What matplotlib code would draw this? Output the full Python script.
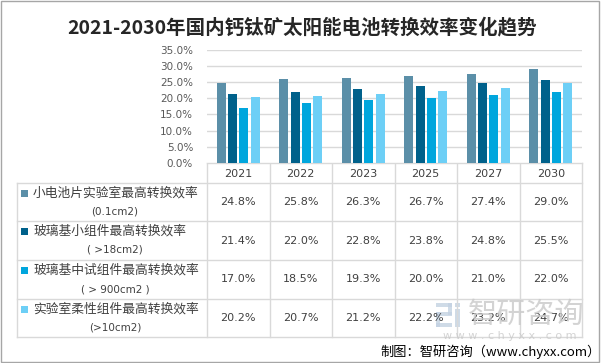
import numpy as np
import matplotlib
matplotlib.use('Agg')
import matplotlib.pyplot as plt
from matplotlib.patches import Rectangle

plt.rcParams['font.family'] = ['Noto Sans CJK SC', 'DejaVu Sans']

years = ['2021', '2022', '2023', '2025', '2027', '2030']
series_names = ['小电池片实验室最高转换效率', '玻璃基小组件最高转换效率',
                '玻璃基中试组件最高转换效率', '实验室柔性组件最高转换效率']
series_notes = ['(0.1cm2)', '( >18cm2)', '( > 900cm2 )', '(>10cm2)']
cell_small = [24.8, 25.8, 26.3, 26.7, 27.4, 29.0]
glass_small = [21.4, 22.0, 22.8, 23.8, 24.8, 25.5]
glass_pilot = [17.0, 18.5, 19.3, 20.0, 21.0, 22.0]
flexible = [20.2, 20.7, 21.2, 22.2, 23.2, 24.7]
series = [cell_small, glass_small, glass_pilot, flexible]
colors = ['#5B8FA8', '#00618B', '#00A6DD', '#6DCFF6']

W, H = 605, 363
fig = plt.figure(figsize=(W / 100, H / 100), dpi=100)

# overlay in pixel coords for table / decorations
ov = fig.add_axes([0, 0, 1, 1])
ov.set_xlim(0, W)
ov.set_ylim(H, 0)
ov.axis('off')

# bar chart
x0, x1 = 207, 582
y_zero, y_top = 163, 49.5
ax = fig.add_axes([x0 / W, (H - y_zero) / H, (x1 - x0) / W, (y_zero - y_top) / H])
x = np.arange(len(years))
stride, bw = 0.18, 0.145
for i, vals in enumerate(series):
    ax.bar(x + (i - 1.5) * stride, vals, width=bw, color=colors[i], zorder=3)
ax.set_xlim(-0.5, len(years) - 0.5)
ax.set_ylim(0, 35)
ax.set_yticks(np.arange(0, 36, 5))
ax.set_yticklabels([f'{v:.1f}%' for v in np.arange(0, 36, 5)], family='DejaVu Sans',
                   fontsize=7.5, color='#595959')
ax.set_xticks([])
ax.grid(axis='y', color='#D9D9D9', lw=1, zorder=0)
ax.tick_params(axis='y', length=0, pad=10)
for s in ax.spines.values():
    s.set_visible(False)

# table
col_w = (x1 - x0) / len(years)
row_edges = [183, 221, 260, 299, 337]
line_c = '#D9D9D9'
for yy in row_edges:
    ov.plot([17, x1], [yy, yy], color=line_c, lw=1)
ov.plot([x0, x1], [y_zero, y_zero], color=line_c, lw=1)
ov.plot([17, 17], [183, 337], color=line_c, lw=1)
for j in range(len(years) + 1):
    xx = x0 + j * col_w
    ov.plot([xx, xx], [y_zero, 337], color=line_c, lw=1)

for j, yr in enumerate(years):
    ov.text(x0 + (j + 0.5) * col_w, 174, yr, ha='center', va='center',
            family='DejaVu Sans', fontsize=8, color='#404040')

for i, vals in enumerate(series):
    top, bot = row_edges[i], row_edges[i + 1]
    ov.add_patch(Rectangle((21, top + 7), 6.5, 6.5, color=colors[i], lw=0))
    ov.text(33, top + 10.5, series_names[i], ha='left', va='center',
            fontsize=9.2, color='#404040')
    ov.text(115, top + 29, series_notes[i], ha='center', va='center',
            family='DejaVu Sans', fontsize=7.5, color='#404040')
    for j, v in enumerate(vals):
        ov.text(x0 + (j + 0.5) * col_w, (top + bot) / 2, f'{v:.1f}%', ha='center',
                va='center', family='DejaVu Sans', fontsize=8, color='#404040')

# title
ov.text(302, 27, '2021-2030年国内钙钛矿太阳能电池转换效率变化趋势', ha='center',
        va='center', fontsize=14, fontweight='bold', color='#262626')

# watermark
wm = '#C9C9C9'
logo = '#C3D2E2'
for (lx, ly, lw_, lh) in [(436, 303, 16, 4), (448, 303, 4, 12), (436, 312, 16, 4),
                          (436, 312, 4, 15), (436, 323, 16, 4), (455, 309, 5, 18),
                          (455, 303, 5, 4)]:
    ov.add_patch(Rectangle((lx, ly), lw_, lh, color=logo, lw=0, alpha=0.8))
ov.text(526, 315, '智研咨询', ha='center', va='center', fontsize=21, color=wm, alpha=0.8)
ov.text(510, 336, 'w w w . c h y x x . c o m', ha='center', va='center',
        family='DejaVu Sans', fontsize=8, color=wm, alpha=0.8)

# source
ov.text(601, 352, '制图：智研咨询（www.chyxx.com）', ha='right', va='center',
        fontsize=9.5, color='#000000')

# frame
ov.add_patch(Rectangle((0.5, 0.5), 598.5, 361, fill=False, edgecolor='#A6A6A6', lw=1))

fig.savefig('out.png', dpi=100)
